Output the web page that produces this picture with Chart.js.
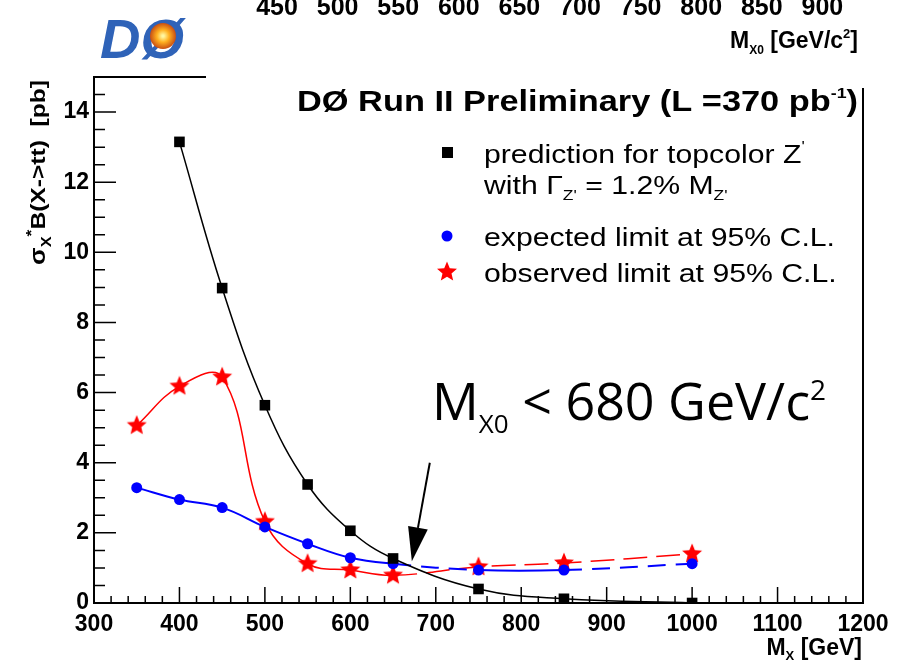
<!DOCTYPE html>
<html>
<head>
<meta charset="utf-8">
<script src="https://cdn.jsdelivr.net/npm/chart.js@4.4.1/dist/chart.umd.min.js"></script>
<style>
body{margin:0;background:#fff}
#wrap{width:904px;height:660px;position:relative}
</style>
</head>
<body>
<div id="wrap"><canvas id="c" width="904" height="660"></canvas></div>
<script>
// mass points in GeV
var limitMass = [350,400,450,500,550,600,650,750,850,1000];
var predMass  = [400,450,500,550,600,650,750,850,1000];
// sigma*B in pb
var predXsec = [13.15,8.98,5.64,3.38,2.06,1.27,0.40,0.12,0.0];
var expLimit = [3.29,2.95,2.72,2.17,1.69,1.29,1.12,0.94,0.94,1.12];
var obsLimit = [5.06,6.18,6.44,2.32,1.12,0.94,0.79,1.03,1.14,1.40];

var xTicks = [300,400,500,600,700,800,900,1000,1100,1200];
var yTicks = [0,2,4,6,8,10,12,14];
var topTicks = [450,500,550,600,650,700,750,800,850,900];

// arrow pointing at the mass limit (data coords)
var arrowFrom = {x:693, y:4.0};
var arrowTo = {x:672, y:1.19};

var FONT = "'Liberation Sans', Arial, sans-serif";

function pts(xs, ys){ return xs.map(function(x,i){ return {x:x, y:ys[i]}; }); }

// filled five point star for the observed limit
function makeStar(size, color){
  var cv = document.createElement('canvas');
  cv.width = size; cv.height = size;
  var g = cv.getContext('2d');
  var c = size/2, ro = size/2 - 0.5, ri = ro*0.45;
  g.beginPath();
  for (var i = 0; i < 10; i++) {
    var r = i%2 ? ri : ro;
    var a = -Math.PI/2 + i*Math.PI/5;
    g.lineTo(c + r*Math.cos(a), c + r*Math.sin(a));
  }
  g.closePath();
  g.fillStyle = color; g.fill();
  return cv;
}
var star = makeStar(22, '#ff0000');

function richWidth(ctx, parts){
  var w = 0;
  parts.forEach(function(p){ ctx.font = p.f; w += ctx.measureText(p.t).width; });
  return w;
}
function drawRich(ctx, x, y, parts, align, sx){
  sx = sx || 1;
  var w = richWidth(ctx, parts)*sx;
  var cx = align === 'right' ? x - w : (align === 'center' ? x - w/2 : x);
  ctx.textAlign = 'left'; ctx.textBaseline = 'alphabetic';
  parts.forEach(function(p){
    ctx.font = p.f;
    ctx.save(); ctx.translate(cx, y + (p.dy||0)); ctx.scale(sx,1); ctx.fillText(p.t,0,0); ctx.restore();
    cx += ctx.measureText(p.t).width*sx;
  });
  return w;
}

var decor = {
  id: 'decor',
  afterDraw: function(chart){
    var ctx = chart.ctx, a = chart.chartArea;
    var xs = chart.scales.x, ys = chart.scales.y;
    ctx.save();
    ctx.strokeStyle = '#000'; ctx.fillStyle = '#000';

    // frame (top and right partly hidden in the original)
    ctx.lineWidth = 2;
    ctx.beginPath();
    ctx.moveTo(206, a.top); ctx.lineTo(a.left, a.top); ctx.lineTo(a.left, a.bottom);
    ctx.lineTo(a.right, a.bottom); ctx.lineTo(a.right, 88);
    ctx.stroke();

    // ticks inside the frame
    ctx.lineWidth = 1.5;
    ctx.beginPath();
    for (var v = 0; v <= 15; v += 0.5) {
      var py = ys.getPixelForValue(v);
      var len = (v % 2 === 0) ? 22 : 11;
      ctx.moveTo(a.left, py); ctx.lineTo(a.left + len, py);
    }
    for (var u = 300; u <= 1200; u += 20) {
      var px = xs.getPixelForValue(u);
      var l2 = (u % 100 === 0) ? 16 : 7;
      ctx.moveTo(px, a.bottom); ctx.lineTo(px, a.bottom - l2);
    }
    ctx.stroke();

    // y axis title, top aligned
    ctx.save();
    ctx.translate(45, 80); ctx.rotate(-Math.PI/2);
    var yt = [
      {t:'\u03c3', f:'bold 22px '+FONT},
      {t:'X', f:'bold 14px '+FONT, dy:6},
      {t:'*', f:'bold 15px '+FONT, dy:-9},
      {t:'B(X->tt)  [pb]', f:'bold 21px '+FONT}
    ];
    drawRich(ctx, 0, 0, yt, 'right', 185/richWidth(ctx, yt));
    ctx.restore();

    // x axis title
    drawRich(ctx, 862, 655, [
      {t:'M', f:'bold 23px '+FONT},
      {t:'X', f:'bold 13px '+FONT, dy:5},
      {t:' [GeV]', f:'bold 23px '+FONT}
    ], 'right');

    // top axis pasted above the plot
    ctx.font = 'bold 25px '+FONT; ctx.textAlign = 'center';
    topTicks.forEach(function(t){
      ctx.fillText(String(t), 277 + (t-450)/50*60.6, 15);
    });
    drawRich(ctx, 858, 48, [
      {t:'M', f:'bold 23px '+FONT},
      {t:'X0', f:'bold 12px '+FONT, dy:6},
      {t:' [GeV/c', f:'bold 23px '+FONT},
      {t:'2', f:'bold 13px '+FONT, dy:-10},
      {t:']', f:'bold 23px '+FONT}
    ], 'right');

    // logo
    ctx.font = 'bold italic 56px '+FONT; ctx.textAlign = 'left';
    ctx.fillStyle = '#2f63b8';
    ctx.fillText('D\u00d8', 100, 58);
    var gr = ctx.createRadialGradient(163, 36, 1, 163, 36, 14);
    gr.addColorStop(0, '#fff6a0'); gr.addColorStop(0.4, '#ffb020'); gr.addColorStop(1, '#c04010');
    ctx.fillStyle = gr;
    ctx.beginPath(); ctx.arc(163, 36, 13, 0, Math.PI*2); ctx.fill();
    ctx.fillStyle = '#000';

    // legend block
    var title = [
      {t:'D\u00d8 Run II Preliminary (L =370 pb', f:'bold 29px '+FONT},
      {t:'-1', f:'bold 15px '+FONT, dy:-13},
      {t:')', f:'bold 29px '+FONT}
    ];
    var tw = richWidth(ctx, title);
    drawRich(ctx, 297, 111, title, 'left', 561/tw);

    var lf = '26px '+FONT, lsub = '15px '+FONT;
    ctx.font = lf;
    var lsx = 351/ctx.measureText('expected limit at 95% C.L.').width;
    drawRich(ctx, 484, 163, [{t:'prediction for topcolor Z', f:lf},{t:"'", f:lsub, dy:-12}], 'left', lsx);
    drawRich(ctx, 484, 194, [
      {t:'with \u0393', f:lf}, {t:"Z'", f:lsub, dy:6},
      {t:' = 1.2% M', f:lf}, {t:"Z'", f:lsub, dy:6}
    ], 'left', lsx);
    drawRich(ctx, 484, 246, [{t:'expected limit at 95% C.L.', f:lf}], 'left', lsx);
    drawRich(ctx, 484, 282, [{t:'observed limit at 95% C.L.', f:lf}], 'left', lsx);
    ctx.fillStyle = '#000'; ctx.fillRect(442, 147, 11, 11);
    ctx.fillStyle = '#0000ff'; ctx.beginPath(); ctx.arc(447, 236, 5.5, 0, Math.PI*2); ctx.fill();
    ctx.drawImage(star, 447-11, 272-11);

    // mass limit annotation
    ctx.fillStyle = '#000';
    drawRich(ctx, 432, 420, [
      {t:'M', f:'52px "Open Sans", sans-serif'},
      {t:'X0', f:'26px "Open Sans", sans-serif', dy:13},
      {t:' < 680 GeV/c', f:'52px "Open Sans", sans-serif'},
      {t:'2', f:'28px "Open Sans", sans-serif', dy:-20}
    ], 'left');

    var x0 = xs.getPixelForValue(arrowFrom.x), y0 = ys.getPixelForValue(arrowFrom.y);
    var x1 = xs.getPixelForValue(arrowTo.x), y1 = ys.getPixelForValue(arrowTo.y);
    var ang = Math.atan2(y1-y0, x1-x0), hl = 34, hw = 10;
    var bx = x1 - hl*Math.cos(ang), by = y1 - hl*Math.sin(ang);
    ctx.lineWidth = 2;
    ctx.beginPath(); ctx.moveTo(x0, y0); ctx.lineTo(bx, by); ctx.stroke();
    ctx.beginPath();
    ctx.moveTo(x1, y1);
    ctx.lineTo(bx + hw*Math.sin(ang), by - hw*Math.cos(ang));
    ctx.lineTo(bx - hw*Math.sin(ang), by + hw*Math.cos(ang));
    ctx.closePath(); ctx.fill();

    ctx.restore();
  }
};

function dashAfter(from, dash, skip){
  return function(c){
    var x0 = c.p0.parsed.x;
    if (x0 >= from && (!skip || skip.indexOf(x0) < 0)) return dash;
    return undefined;
  };
}

new Chart(document.getElementById('c'), {
  type: 'line',
  data: {
    datasets: [
      {
        label: 'prediction for topcolor Z\'',
        data: pts(predMass, predXsec),
        borderColor: '#000', backgroundColor: '#000', borderWidth: 1.5,
        pointStyle: 'rect', pointRadius: 7.5, pointBorderWidth: 0,
        tension: 0.4
      },
      {
        label: 'expected limit at 95% C.L.',
        data: pts(limitMass, expLimit),
        borderColor: '#0000ff', backgroundColor: '#0000ff', borderWidth: 2,
        pointStyle: 'circle', pointRadius: 5.5, pointBorderWidth: 0,
        tension: 0.4,
        segment: { borderDash: dashAfter(650, [18,10], [750]) }
      },
      {
        label: 'observed limit at 95% C.L.',
        data: pts(limitMass, obsLimit),
        borderColor: '#ff0000', backgroundColor: '#ff0000', borderWidth: 1.5,
        pointStyle: star, pointRadius: 11, pointBorderWidth: 0,
        tension: 0.4,
        segment: { borderDash: dashAfter(650, [24,9]) }
      }
    ]
  },
  options: {
    responsive: false,
    animation: false,
    layout: { padding: { top: 77, right: 41, left: 0, bottom: 0 } },
    plugins: { legend: { display: false }, tooltip: { enabled: false } },
    scales: {
      x: {
        type: 'linear', min: 300, max: 1200,
        afterFit: function(s){ s.height = 57; },
        afterBuildTicks: function(s){ s.ticks = xTicks.map(function(v){ return {value:v}; }); },
        grid: { display: false, drawTicks: false },
        border: { display: false },
        ticks: { color: '#000', padding: 8, maxRotation: 0, autoSkip: false,
                 callback: function(v){ return String(v); },
                 font: { family: FONT, size: 23, weight: 'bold' } }
      },
      y: {
        min: 0, max: 15,
        afterFit: function(s){ s.width = 94; },
        afterBuildTicks: function(s){ s.ticks = yTicks.map(function(v){ return {value:v}; }); },
        grid: { display: false, drawTicks: false },
        border: { display: false },
        ticks: { color: '#000', padding: 5,
                 callback: function(v){ return String(v); },
                 font: { family: FONT, size: 23, weight: 'bold' } }
      }
    }
  },
  plugins: [decor]
});
</script>
</body>
</html>
